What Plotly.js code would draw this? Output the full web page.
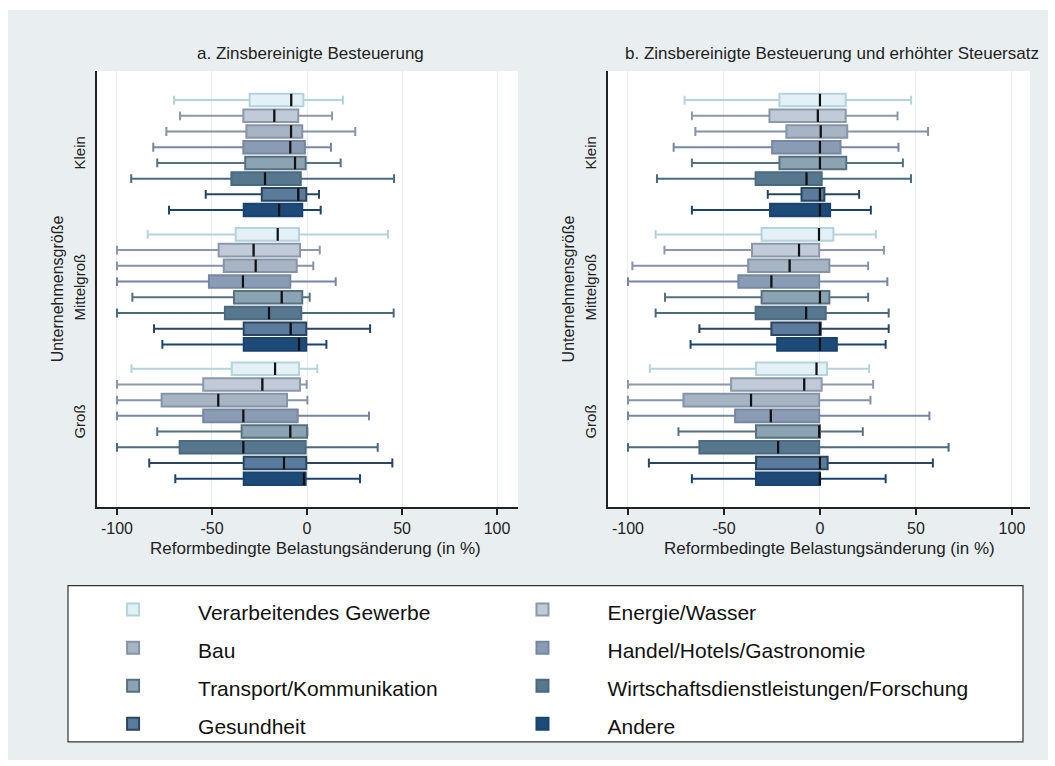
<!DOCTYPE html>
<html>
<head>
<meta charset="utf-8">
<script src="https://cdn.plot.ly/plotly-3.0.1.min.js"></script>
<style>
  html, body { margin: 0; padding: 0; background: #ffffff; }
  #chart { position: absolute; left: 8px; top: 10px; width: 1040px; height: 750px; }
</style>
</head>
<body>
<div id="chart"></div>
<script>
// ---------- data ----------
const sizes = ['Klein', 'Mittelgroß', 'Groß'];
const sectors = ['Verarbeitendes Gewerbe', 'Energie/Wasser', 'Bau', 'Handel/Hotels/Gastronomie',
                 'Transport/Kommunikation', 'Wirtschaftsdienstleistungen/Forschung', 'Gesundheit', 'Andere'];
const xTickVals = [-100, -50, 0, 50, 100];
const xTickText = ['-100', '-50', '0', '50', '100'];
const panelTitles = ['a. Zinsbereinigte Besteuerung', 'b. Zinsbereinigte Besteuerung und erhöhter Steuersatz'];
const xTitle = 'Reformbedingte Belastungsänderung (in %)';
const yTitle = 'Unternehmensgröße';

// Panel a: Zinsbereinigte Besteuerung (rows = Klein, Mittelgroß, Groß; columns = sectors)
const aLow  = [[-70, -66.8, -74, -80.9, -78.8, -92.5, -53.3, -72.6],
               [-83.8, -100, -100, -100, -91.9, -100, -80.5, -76.1],
               [-92.3, -100, -100, -100, -78.8, -100, -83, -69.3]];
const aQ1   = [[-30.2, -33.5, -31.9, -33.5, -32.5, -39.8, -23.8, -33.3],
               [-37.5, -46.5, -43.8, -51.6, -38.4, -43.2, -33.3, -33.3],
               [-39.6, -54.6, -76.5, -54.6, -34.4, -67, -33.3, -33.3]];
const aMed  = [[-8.3, -17.2, -8.4, -8.8, -6.3, -22.1, -4.6, -14.7],
               [-15.4, -28.1, -27, -33.7, -13.3, -20, -8.6, -4.2],
               [-16.8, -23.5, -46.7, -33.5, -8.8, -33.5, -12.1, -1.6]];
const aQ3   = [[-1.9, -4.6, -2.5, -1.1, -0.7, -3.3, -0.4, -2.5],
               [-4.2, -3.7, -5.4, -8.8, -2.5, -3, -0.4, -0.4],
               [-4.2, -3.7, -10.5, -4.9, 0, -0.7, -0.4, -0.7]];
const aHigh = [[18.9, 13.2, 25.4, 12.6, 17.7, 45.8, 6.3, 7.2],
               [42.6, 6.7, 3.3, 15.1, 1.4, 45.6, 33.2, 10.2],
               [5.4, -0.2, 0.2, 32.6, 0.2, 37.2, 44.9, 27.9]];

// Panel b: Zinsbereinigte Besteuerung und erhöhter Steuersatz
const bLow  = [[-70.5, -66.7, -64.9, -76.2, -66.7, -84.9, -27.2, -66.7],
               [-85.6, -81, -97.7, -100, -80.7, -85.6, -62.8, -67.4],
               [-88.6, -100, -100, -100, -73.7, -100, -89.1, -66.7]];
const bQ1   = [[-21.1, -26.3, -17.5, -24.9, -21.1, -33.5, -9.6, -26],
               [-30.4, -35.4, -37.4, -42.5, -30.4, -33.5, -25.3, -22.3],
               [-33.3, -46.3, -71.1, -44.2, -33.3, -62.8, -33.3, -33.3]];
const bMed  = [[0, -1.1, 0.4, 0, 0, -7, 0, 0],
               [-0.5, -10.9, -15.8, -25.3, 0, -7.2, 0, 0],
               [-1.8, -8.2, -35.9, -25.6, -0.4, -21.8, 0, 0]];
const bQ3   = [[13.4, 13.4, 14.2, 10.7, 13.7, 0.9, 2.3, 5.3],
               [7, -0.4, 4.9, -0.4, 4.9, 3, 0.4, 8.8],
               [3.7, 0.9, -0.4, -0.4, 0, -0.4, 4, 0]];
const bHigh = [[47.5, 40.4, 56.3, 40.9, 43.2, 47.4, 20.4, 26.5],
               [29.1, 33.3, 25.1, 35.1, 25.1, 35.8, 35.8, 34.2],
               [25.6, 27.7, 26.3, 57, 22.3, 67, 58.8, 34.2]];

// ---------- styles ----------
const fillColors = ['#e3f1f6', '#c0cad8', '#a7b4c4', '#8a9cb4', '#8ca3b3', '#56778e', '#5b7b9c', '#1d4a76'];
const lineColors = ['#b3d4db', '#8c98aa', '#8692a6', '#7587a2', '#57717f', '#4a6a80', '#2a4560', '#1a4470'];
const FONT = 'Liberation Sans, Arial, sans-serif';

function col(mat, j) { return mat.map(r => r[j]); }

const traces = [];
function addPanel(low, q1, med, q3, high, xa, ya, grp, showLeg) {
  sectors.forEach((s, j) => {
    traces.push({
      type: 'box', orientation: 'h',
      name: '<span style="font-size:21px">' + s + '</span>',
      legend: (j % 2 === 0) ? 'legend' : 'legend2',
      y: sizes, xaxis: xa, yaxis: ya,
      lowerfence: col(low, j), q1: col(q1, j), median: col(med, j),
      q3: col(q3, j), upperfence: col(high, j),
      fillcolor: fillColors[j],
      line: { color: lineColors[j], width: 2 },
      whiskerwidth: 0.7,
      alignmentgroup: grp, offsetgroup: 's' + j,
      showlegend: showLeg, legendgroup: 's' + j,
      hoverinfo: 'skip'
    });
  });
  // black median markers, drawn on top at the same offsets
  sectors.forEach((s, j) => {
    const m = col(med, j);
    traces.push({
      type: 'box', orientation: 'h', name: s + ' Median',
      y: sizes, xaxis: xa, yaxis: ya,
      lowerfence: m, q1: m, median: m, q3: m, upperfence: m,
      fillcolor: 'rgba(0,0,0,0)',
      line: { color: '#111111', width: 2.2 },
      whiskerwidth: 0,
      alignmentgroup: grp, offsetgroup: 's' + j,
      showlegend: false, legendgroup: 's' + j,
      hoverinfo: 'skip'
    });
  });
}
addPanel(aLow, aQ1, aMed, aQ3, aHigh, 'x', 'y', 'ga', true);
addPanel(bLow, bQ1, bMed, bQ3, bHigh, 'x2', 'y2', 'gb', false);

const xCommon = {
  tickvals: xTickVals, ticktext: xTickText,
  showgrid: true, gridcolor: '#e7eded', gridwidth: 1, zeroline: false,
  showline: true, linecolor: '#222222', linewidth: 2,
  ticks: 'outside', ticklen: 6, tickwidth: 1.5, tickcolor: '#222222',
  tickfont: { family: FONT, size: 16, color: '#222222' },
  fixedrange: true
};
const yCommon = {
  type: 'category', categoryorder: 'array', categoryarray: sizes,
  range: [2.62, -0.626], autorange: false,
  showgrid: false, zeroline: false,
  showline: true, linecolor: '#222222', linewidth: 2,
  ticks: '', tickangle: -90, ticklabelstandoff: 4,
  tickfont: { family: FONT, size: 15, color: '#222222' },
  title: { text: yTitle, font: { family: FONT, size: 16, color: '#222222' }, standoff: 3 },
  fixedrange: true
};

const legendCommon = {
  orientation: 'v', xanchor: 'left', y: -0.18, yanchor: 'top',
  bgcolor: 'rgba(0,0,0,0)', borderwidth: 0,
  font: { family: FONT, size: 27, color: '#111111' },
  itemwidth: 120, traceorder: 'normal', itemclick: false, itemdoubleclick: false
};

const annoFont = { family: FONT, size: 17, color: '#222222' };
const layout = {
  width: 1040, height: 750,
  paper_bgcolor: '#e9eff1', plot_bgcolor: '#ffffff',
  margin: { l: 89, r: 18, t: 61, b: 251 },
  font: { family: FONT, color: '#222222' },
  boxmode: 'group', boxgap: 0.064, boxgroupgap: 0.2,
  xaxis: Object.assign({}, xCommon, { domain: [0, 0.4512], range: [-110.5, 111], anchor: 'y' }),
  xaxis2: Object.assign({}, xCommon, { domain: [0.5477, 1], range: [-110.4, 109.4], anchor: 'y2' }),
  yaxis: Object.assign({}, yCommon, { anchor: 'x' }),
  yaxis2: Object.assign({}, yCommon, { anchor: 'x2' }),
  showlegend: true,
  legend: Object.assign({}, legendCommon, { x: -0.031 }),
  legend2: Object.assign({}, legendCommon, { x: 0.4078 }),
  shapes: [
    { type: 'rect', xref: 'paper', yref: 'paper', x0: -0.0311, x1: 0.9925, y0: -0.1804, y1: -0.5388,
      fillcolor: '#ffffff', line: { color: '#333333', width: 1.2 }, layer: 'below' }
  ],
  annotations: [
    { text: panelTitles[0], xref: 'paper', yref: 'paper', x: 0.2283, y: 1, yshift: 6,
      xanchor: 'center', yanchor: 'bottom', showarrow: false, font: annoFont },
    { text: panelTitles[1], xref: 'paper', yref: 'paper', x: 0.7878, y: 1, yshift: 6,
      xanchor: 'center', yanchor: 'bottom', showarrow: false, font: annoFont },
    { text: xTitle, xref: 'paper', yref: 'paper', x: 0.2347, y: -0.0959,
      xanchor: 'center', yanchor: 'middle', showarrow: false, font: annoFont },
    { text: xTitle, xref: 'paper', yref: 'paper', x: 0.7856, y: -0.0959,
      xanchor: 'center', yanchor: 'middle', showarrow: false, font: annoFont }
  ]
};

Plotly.newPlot('chart', traces, layout, { displayModeBar: false, staticPlot: true });
</script>
</body>
</html>
